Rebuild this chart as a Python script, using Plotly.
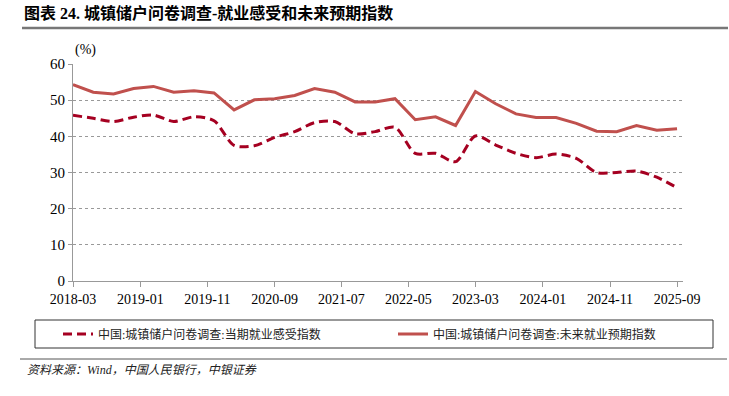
import plotly.graph_objects as go

dates = [
    "2018-03-01", "2018-06-01", "2018-09-01", "2018-12-01",
    "2019-03-01", "2019-06-01", "2019-09-01", "2019-12-01",
    "2020-03-01", "2020-06-01", "2020-09-01", "2020-12-01",
    "2021-03-01", "2021-06-01", "2021-09-01", "2021-12-01",
    "2022-03-01", "2022-06-01", "2022-09-01", "2022-12-01",
    "2023-03-01", "2023-06-01", "2023-09-01", "2023-12-01",
    "2024-03-01", "2024-06-01", "2024-09-01", "2024-12-01",
    "2025-03-01", "2025-06-01", "2025-09-01",
]

current_index = [
    45.8, 45.0, 44.1, 45.3,
    45.9, 44.1, 45.4, 44.3,
    37.5, 37.4, 39.7, 41.3,
    43.8, 44.1, 40.7, 41.3,
    42.5, 35.3, 35.3, 33.0,
    40.1, 37.6, 35.3, 34.1,
    35.1, 33.9, 30.0, 30.0,
    30.4, 28.7, 25.8,
]

future_index = [
    54.3, 52.2, 51.7, 53.2,
    53.8, 52.2, 52.6, 52.0,
    47.3, 50.1, 50.4, 51.3,
    53.2, 52.2, 49.5, 49.5,
    50.4, 44.6, 45.4, 43.0,
    52.4, 49.0, 46.2, 45.2,
    45.2, 43.6, 41.4, 41.3,
    43.0, 41.7, 42.1,
]

name_current = "中国:城镇储户问卷调查:当期就业感受指数"
name_future = "中国:城镇储户问卷调查:未来就业预期指数"
title_text = "图表 24. 城镇储户问卷调查-就业感受和未来预期指数"
source_text = "资料来源：Wind，中国人民银行，中银证券"

W, H = 729, 396
L, R, T, B = 73, 46, 64, 115
PW, PH = W - L - R, H - T - B

def px(x):
    return (x - L) / PW

def py(y):
    return (H - B - y) / PH

serif = "Liberation Serif, Noto Sans CJK SC, serif"
cjk = "Liberation Serif, Noto Sans CJK SC, sans-serif"

fig = go.Figure()
fig.add_trace(go.Scatter(
    x=dates, y=current_index, name=name_current, mode="lines",
    line=dict(color="#A50021", width=3, dash="9px,5px", shape="spline", smoothing=0.8),
    legend="legend",
))
fig.add_trace(go.Scatter(
    x=dates, y=future_index, name=name_future, mode="lines",
    line=dict(color="#C0504D", width=3),
    legend="legend2",
))

fig.update_layout(
    width=W, height=H, autosize=False,
    margin=dict(l=L, r=R, t=T, b=B),
    paper_bgcolor="white", plot_bgcolor="white",
    font=dict(family=serif, color="#000", size=14),
    showlegend=True,
    legend=dict(x=px(58), y=py(334), xanchor="left", yanchor="middle",
                orientation="h", font=dict(family=cjk, size=12, color="#222"),
                bgcolor="rgba(0,0,0,0)"),
    legend2=dict(x=px(393), y=py(334), xanchor="left", yanchor="middle",
                 orientation="h", font=dict(family=cjk, size=12, color="#222"),
                 bgcolor="rgba(0,0,0,0)"),
    xaxis=dict(
        type="date",
        range=["2018-03-01", "2025-09-28"],
        tick0="2018-03-01", dtick="M10", tickformat="%Y-%m",
        showgrid=False, showline=True, linecolor="#999", linewidth=1,
        ticks="outside", ticklen=5, tickcolor="#999",
        tickfont=dict(family=serif, size=14, color="#000"),
        zeroline=False,
    ),
    yaxis=dict(
        range=[0, 60], dtick=10, tick0=0,
        showgrid=True, gridcolor="#999", griddash="dot", gridwidth=1,
        showline=True, linecolor="#999", linewidth=1,
        ticks="outside", ticklen=4, tickcolor="#999",
        tickfont=dict(family=serif, size=15, color="#000"),
        zeroline=False,
    ),
)

fig.add_annotation(x=px(22), y=py(13), xref="paper", yref="paper",
                   text="<b>" + title_text + "</b>", showarrow=False,
                   xanchor="left", yanchor="middle",
                   font=dict(family=cjk, size=16, color="#000"))
fig.add_annotation(x=px(73), y=py(50), xref="paper", yref="paper",
                   text="(%)", showarrow=False, xanchor="left", yanchor="middle",
                   font=dict(family=serif, size=14, color="#000"))
fig.add_annotation(x=px(25), y=py(370), xref="paper", yref="paper",
                   text="<i>" + source_text + "</i>", showarrow=False,
                   xanchor="left", yanchor="middle",
                   font=dict(family=cjk, size=12, color="#222"))

fig.add_shape(type="line", xref="paper", yref="paper",
              x0=px(22), x1=px(728), y0=py(28), y1=py(28),
              line=dict(color="#777777", width=2.5))
fig.add_shape(type="rect", xref="paper", yref="paper",
              x0=px(35), x1=px(713), y0=py(348), y1=py(320),
              line=dict(color="#333", width=1))
fig.add_shape(type="line", xref="paper", yref="paper",
              x0=px(20), x1=px(727), y0=py(359), y1=py(359),
              line=dict(color="#555", width=1))

fig.write_html("out.html",
               config={"displayModeBar": False},
               post_script="document.body.style.margin='0';document.body.style.overflow='hidden';")
